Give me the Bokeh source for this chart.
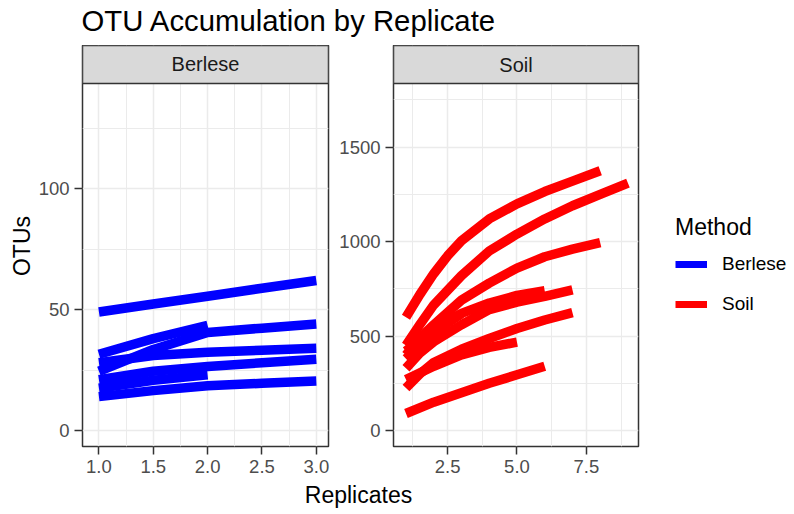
from bokeh.plotting import figure
from bokeh.models import Range1d, FixedTicker, Label, Legend, LegendItem, CustomJSTickFormatter
from bokeh.layouts import row, column
from bokeh.embed import file_html
from bokeh.resources import INLINE
from bokeh.core.properties import value

FONT = "Liberation Sans"

# ---------------- data ----------------
title_text = "OTU Accumulation by Replicate"
x_label = "Replicates"
y_label = "OTUs"
legend_title = "Method"
methods = ["Berlese", "Soil"]
method_colors = ["#0000FF", "#FF0000"]

berlese_x = [
    [1, 1.5, 2, 2.5, 3],
    [1, 1.5, 2],
    [1, 1.5, 2, 2.5, 3],
    [1, 1.5, 2, 2.5, 3],
    [1, 1.5, 2, 2.5, 3],
    [1, 1.5, 2],
    [1, 1.5, 2, 2.5, 3],
]
berlese_y = [
    [49, 52.3, 55.5, 58.8, 62],
    [31.5, 38, 43.5],
    [24.5, 33.5, 40.5, 42.3, 44],
    [28, 31, 32.3, 33.2, 34],
    [21, 24.5, 26.5, 28, 29.5],
    [17.5, 20.8, 23],
    [14, 16.5, 18.5, 19.5, 20.5],
]

soil_x = [
    [1, 1.5, 2, 2.5, 3, 4, 5, 6, 7, 8],
    [1, 1.5, 2, 3, 4, 5, 6, 7, 8, 9],
    [1, 1.5, 2, 3, 4, 5, 6, 7, 8],
    [1, 1.5, 2, 3, 4, 5, 6, 7],
    [1, 1.5, 2, 3, 4, 5, 6],
    [1, 2, 3],
    [1, 1.5, 2, 3, 4, 5, 6, 7],
    [1, 2, 3, 4, 5],
    [1, 2, 3, 4, 5, 6],
]
soil_y = [
    [600, 720, 830, 925, 1005, 1120, 1200, 1265, 1320, 1375],
    [450, 560, 665, 820, 950, 1040, 1120, 1190, 1250, 1310],
    [400, 490, 560, 690, 780, 860, 920, 960, 995],
    [330, 410, 470, 560, 640, 680, 710, 745],
    [420, 485, 540, 620, 675, 715, 740],
    [380, 520, 618],
    [225, 300, 360, 430, 487, 540, 585, 624],
    [270, 340, 400, 440, 468],
    [90, 150, 200, 250, 295, 340],
]

berlese_xticks = [1.0, 1.5, 2.0, 2.5, 3.0]
berlese_xtick_labels = ["1.0", "1.5", "2.0", "2.5", "3.0"]
berlese_xminor = [1.25, 1.75, 2.25, 2.75]
berlese_yticks = [0, 50, 100]
berlese_ytick_labels = ["0", "50", "100"]
berlese_yminor = [25, 75, 125]

soil_xticks = [2.5, 5.0, 7.5]
soil_xtick_labels = ["2.5", "5.0", "7.5"]
soil_xminor = [1.25, 3.75, 6.25, 8.75]
soil_yticks = [0, 500, 1000, 1500]
soil_ytick_labels = ["0", "500", "1000", "1500"]
soil_yminor = [250, 750, 1250, 1750]

# ranges: (x0, x1) and (y bottom, panel top, strip top)
berlese_xr = (0.849, 3.112)
berlese_yr = (-6.6, 143.4, 159.1)
soil_xr = (0.55, 9.38)
soil_yr = (-84.7, 1837.0, 2038.3)

ROW_H = 435


def fmt(tick_vals, tick_labels):
    return CustomJSTickFormatter(
        args=dict(tv=tick_vals, tl=tick_labels),
        code="const i = tv.findIndex(t => Math.abs(t - tick) < 1e-9); return i >= 0 ? tl[i] : '';",
    )


def make_panel(name, xs, ys, color, xr, yr, xticks, xlabels, xminor,
               yticks, ylabels, yminor, width, min_left, ylab=None):
    p = figure(width=width, height=ROW_H,
               x_range=Range1d(xr[0], xr[1]), y_range=Range1d(yr[0], yr[2]),
               output_backend="svg", toolbar_location=None,
               min_border_left=min_left, min_border_right=7,
               min_border_top=0, min_border_bottom=34,
               background_fill_color="white", border_fill_color="white")
    p.outline_line_color = "#333333"
    p.outline_line_width = 1.5

    p.xaxis.ticker = FixedTicker(ticks=xticks, minor_ticks=xminor)
    p.yaxis.ticker = FixedTicker(ticks=yticks, minor_ticks=yminor)
    p.xaxis.formatter = fmt(xticks, xlabels)
    p.yaxis.formatter = fmt(yticks, ylabels)
    for ax in (p.xaxis, p.yaxis):
        ax.axis_line_color = None
        ax.major_tick_line_color = "#333333"
        ax.major_tick_line_width = 1.5
        ax.major_tick_out = 8
        ax.major_tick_in = 0
        ax.minor_tick_line_color = None
        ax.major_label_text_font = FONT
        ax.major_label_text_font_size = "18.5px"
        ax.major_label_text_color = "#4D4D4D"
        ax.major_label_standoff = 5
    if ylab:
        p.yaxis.axis_label = ylab
        p.yaxis.axis_label_text_font = FONT
        p.yaxis.axis_label_text_font_size = "23px"
        p.yaxis.axis_label_text_font_style = "normal"
        p.yaxis.axis_label_text_color = "black"
        p.yaxis.axis_label_standoff = 1

    p.grid.grid_line_color = "#EBEBEB"
    p.grid.grid_line_width = 1.5
    p.grid.minor_grid_line_color = "#EBEBEB"
    p.grid.minor_grid_line_width = 1

    p.multi_line(xs=xs, ys=ys, line_color=color, line_width=9.5,
                 line_join="round", line_cap="butt")

    # facet strip
    p.quad(left=[xr[0]], right=[xr[1]], bottom=[yr[1]], top=[yr[2]],
           fill_color="#D9D9D9", line_color="#333333", line_width=1.5)
    p.text(x=[(xr[0] + xr[1]) / 2], y=[(yr[1] + yr[2]) / 2], text=[name],
           text_font=value(FONT), text_font_size="20px", text_color="#1A1A1A",
           text_align="center", text_baseline="middle")
    return p


p_left = make_panel(methods[0], berlese_x, berlese_y, method_colors[0],
                    berlese_xr, berlese_yr, berlese_xticks, berlese_xtick_labels, berlese_xminor,
                    berlese_yticks, berlese_ytick_labels, berlese_yminor,
                    width=335, min_left=82, ylab=y_label)
p_right = make_panel(methods[1], soil_x, soil_y, method_colors[1],
                     soil_xr, soil_yr, soil_xticks, soil_xtick_labels, soil_xminor,
                     soil_yticks, soil_ytick_labels, soil_yminor,
                     width=310, min_left=58)


def blank(width, height):
    f = figure(width=width, height=height, x_range=Range1d(0, width), y_range=Range1d(height, 0),
               output_backend="svg", toolbar_location=None,
               x_axis_location=None, y_axis_location=None, min_border=0,
               outline_line_color=None, background_fill_color="white", border_fill_color="white")
    f.grid.visible = False
    return f


# title
p_title = blank(794, 45)
p_title.add_layout(Label(x=81, y=20, text=title_text, text_font=FONT, text_font_size="29.3px",
                         text_color="black", text_baseline="middle", text_align="left"))

# x axis label
p_xlab = blank(794, 514 - 45 - ROW_H)
p_xlab.add_layout(Label(x=358, y=14, text=x_label, text_font=FONT, text_font_size="23px",
                        text_color="black", text_baseline="middle", text_align="center"))

# legend (dummy renderers placed outside the visible range, only used for the keys)
p_leg = blank(794 - 335 - 310, ROW_H)
items = []
for m, c in zip(methods, method_colors):
    r = p_leg.line(x=[-100, -90], y=[-100, -100], line_color=c, line_width=7)
    items.append(LegendItem(label=m, renderers=[r]))
legend = Legend(items=items, title=legend_title, location=(30, 131),
                title_text_font=FONT, title_text_font_size="23px", title_text_font_style="normal",
                title_text_color="black", title_standoff=12,
                label_text_font=FONT, label_text_font_size="19px", label_text_color="black",
                label_standoff=15, label_height=20, glyph_height=20, glyph_width=32,
                spacing=18, padding=0, margin=0,
                border_line_color=None, background_fill_alpha=0)
p_leg.add_layout(legend)

layout = column(p_title, row(p_left, p_right, p_leg), p_xlab)

open("out.html", "w").write(file_html(layout, INLINE))
